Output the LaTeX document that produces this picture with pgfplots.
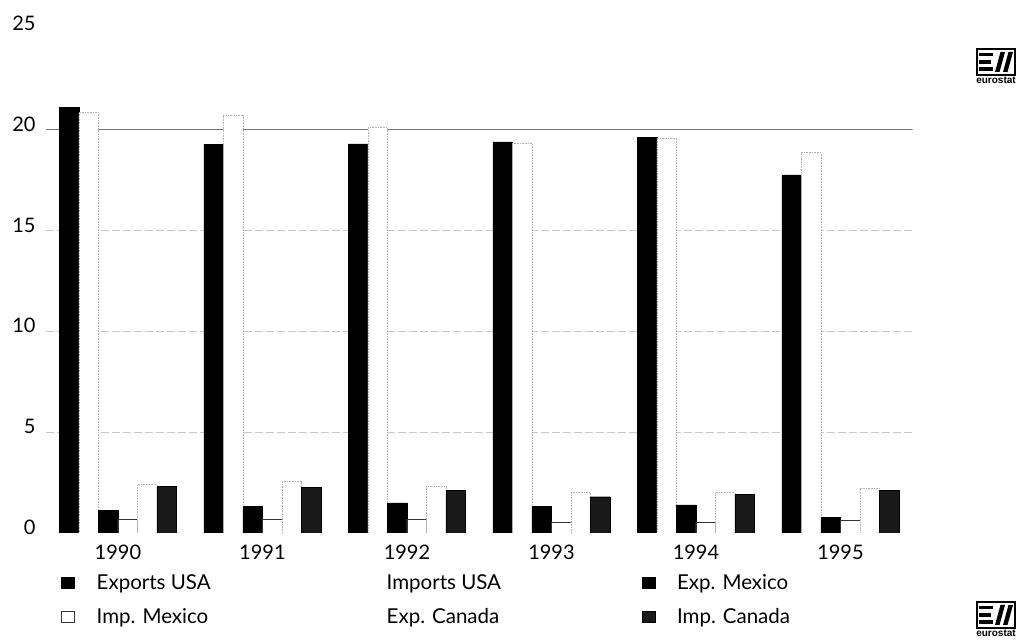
\documentclass[border=0pt]{standalone}
\usepackage{fontspec}
\setmainfont{Lato}
\newfontfamily\logofont{Liberation Sans}
\usepackage{pgfplots}
\pgfplotsset{compat=1.18}
\newcommand\eurologo[2]{%
  \begin{scope}[shift={(#1,#2)}]
    \draw[line width=1.6pt] (0,0) rectangle (38,26);
    \fill (2,4) rectangle (16,7.5);
    \fill (2,11.3) rectangle (14,14.7);
    \fill (2,18.5) rectangle (16,22);
    \fill (18,3) -- (22.5,3) -- (28,23) -- (23.5,23) -- cycle;
    \fill (26,3) -- (30.5,3) -- (36,23) -- (31.5,23) -- cycle;
    \node[font=\logofont\bfseries\fontsize{10}{12}\selectfont, anchor=north, inner sep=0pt] at (19,-2) {eurostat};
  \end{scope}}
\begin{document}
\begin{tikzpicture}[x=1pt,y=1pt]
\path[use as bounding box] (0,0) rectangle (1021,642);
\begin{axis}[
  at={(45.7pt,109pt)}, anchor=south west,
  scale only axis, width=867pt, height=504pt,
  xmin=-0.5, xmax=5.5, ymin=0, ymax=25,
  ybar=0pt, bar width=0.135,
  axis lines=left, axis line style={draw=none}, major tick length=0pt,
  xtick={0,...,5}, xticklabels={1990,1991,1992,1993,1994,1995},
  ytick={0,5,...,25},
  extra y ticks={5,10,15}, extra y tick labels={},
  extra y tick style={grid=major, major grid style={black!22, line width=0.6pt, dash pattern=on 8pt off 3pt}},
  /pgf/number format/assume math mode=true,
  yticklabel style={anchor=base east, inner sep=0pt, xshift=-10pt, yshift=-1.5pt, font=\fontsize{20}{24}\selectfont},
  xticklabel style={anchor=base, inner sep=0pt, yshift=-26.5pt, font=\fontsize{20}{24}\selectfont},
  legend columns=3,
  legend style={draw=none, fill=none, inner sep=0pt, outer sep=0pt,
    at={(0.0177,-0.0794)}, anchor=north west, row sep=12pt, column sep=0pt,
    nodes={inner sep=0pt, text height=16pt, text depth=6pt},
    cells={anchor=base west}, font=\fontsize{20.5}{24}\selectfont},
  legend image code/.code={\draw[#1, solid] (0pt,1pt) rectangle (13pt,12pt);},
]
\draw[black!55, line width=0.8pt] (axis cs:-0.5,20) -- (axis cs:5.5,20);
\addplot[fill=black, draw=black] coordinates {(0,21.13) (1,19.29) (2,19.3) (3,19.4) (4,19.62) (5,17.77)};
\addplot[fill=white, draw=black!30, densely dotted, line width=0.6pt,
  legend image code/.code={\path[draw=none, fill=none] (0pt,1pt) rectangle (13pt,12pt);}] coordinates {(0,20.86) (1,20.7) (2,20.1) (3,19.34) (4,19.6) (5,18.86)};
\addplot[fill=black, draw=black] coordinates {(0,1.14) (1,1.31) (2,1.5) (3,1.31) (4,1.39) (5,0.78)};
\addplot[fill=white, draw=black!80, line width=0.7pt] coordinates {(0,0.69) (1,0.69) (2,0.69) (3,0.53) (4,0.53) (5,0.61)};
\addplot[fill=white, draw=black!30, densely dotted, line width=0.6pt,
  legend image code/.code={\path[draw=none, fill=none] (0pt,1pt) rectangle (13pt,12pt);}] coordinates {(0,2.4) (1,2.55) (2,2.3) (3,2.0) (4,2.0) (5,2.2)};
\addplot[fill=black!90, draw=black] coordinates {(0,2.3) (1,2.27) (2,2.1) (3,1.8) (4,1.92) (5,2.13)};
\legend{\makebox[277pt][l]{\hspace{22pt}Exports USA},
        \makebox[277pt][l]{\hspace{22pt}Imports USA},
        \makebox[277pt][l]{\hspace{22pt}Exp. Mexico},
        \makebox[277pt][l]{\hspace{22pt}Imp. Mexico},
        \makebox[277pt][l]{\hspace{22pt}Exp. Canada},
        \makebox[277pt][l]{\hspace{22pt}Imp. Canada}}
\end{axis}
\eurologo{977}{567}
\eurologo{977}{14}
\end{tikzpicture}
\end{document}
